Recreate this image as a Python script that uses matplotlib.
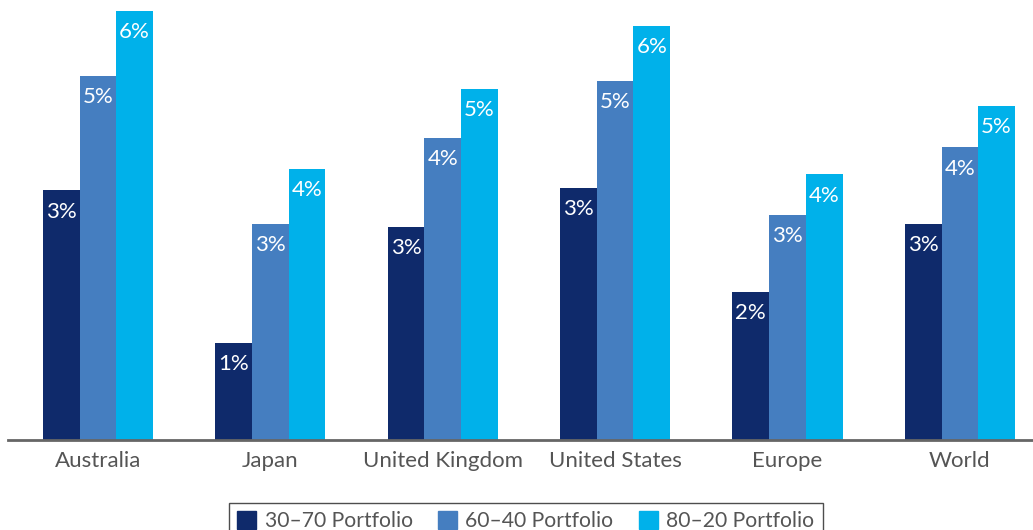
import numpy as np
import matplotlib.pyplot as plt
import matplotlib.patches as mpatches

# Annualised return by region for each portfolio mix (%)
regions = ['Australia', 'Japan', 'United Kingdom', 'United States', 'Europe', 'World']
series_names = ['30\u201370 Portfolio', '60\u201340 Portfolio', '80\u201320 Portfolio']
returns_30_70 = [3.42, 1.33, 2.92, 3.45, 2.03, 2.96]
returns_60_40 = [4.99, 2.96, 4.14, 4.92, 3.08, 4.01]
returns_80_20 = [5.88, 3.71, 4.81, 5.67, 3.64, 4.58]

colors = ['#0F2A6B', '#457EC0', '#00B1EA']
label_font = ['Lato', 'DejaVu Sans']


def draw_series(ax, x, values, color, offset, width):
    bars = ax.bar(x + offset, values, width, color=color, linewidth=0)
    for bar, v in zip(bars, values):
        ax.annotate(f"{v:.0f}%", (bar.get_x() + bar.get_width() / 2, v),
                    xytext=(0, -8), textcoords='offset points',
                    ha='center', va='top', color='white',
                    fontsize=16, family=label_font)


def main():
    fig = plt.figure(figsize=(10.33, 5.3), dpi=100)
    ax = fig.add_axes([0.0, 0.1698, 1.0, 0.8302])

    x = np.arange(len(regions))
    width = 0.213
    all_series = [returns_30_70, returns_60_40, returns_80_20]
    for i, (values, color) in enumerate(zip(all_series, colors)):
        draw_series(ax, x, values, color, (i - 1) * width, width)

    ax.set_xlim(-0.568, 5.424)
    ax.set_ylim(0, 6.03)

    # Only the baseline is kept
    for side in ['top', 'right', 'left']:
        ax.spines[side].set_visible(False)
    ax.spines['bottom'].set_color('#666666')
    ax.spines['bottom'].set_linewidth(2)
    ax.spines['bottom'].set_bounds(-0.52, 5.424)
    ax.set_yticks([])
    ax.set_xticks(x)
    ax.set_xticklabels(regions, fontsize=16, color='#555555', family=label_font)
    ax.tick_params(axis='x', length=0, pad=8)

    handles = [mpatches.Patch(color=c, label=n) for c, n in zip(colors, series_names)]
    leg = fig.legend(handles=handles, loc='upper center', bbox_to_anchor=(0.509, 0.0717),
                     ncol=3, frameon=True, fancybox=False, edgecolor='#222222',
                     handlelength=0.9, handleheight=0.9, handletextpad=0.4,
                     columnspacing=1.2, borderpad=0.4,
                     prop={'family': label_font, 'size': 15.2})
    leg.get_frame().set_linewidth(1.0)
    for t in leg.get_texts():
        t.set_color('#555555')

    fig.savefig('out.png', dpi=100)


if __name__ == "__main__":
    main()
